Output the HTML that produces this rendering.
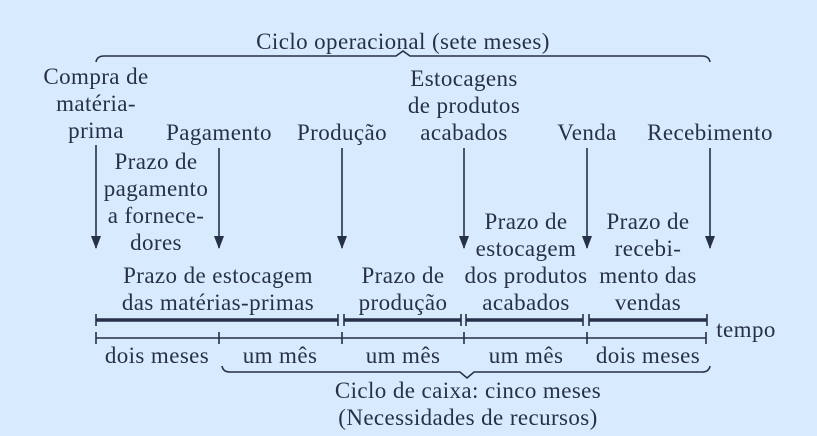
<!DOCTYPE html>
<html><head><meta charset="utf-8"><style>
body{margin:0;width:817px;height:436px;background:#d8ebfc;overflow:hidden;position:relative;font-family:"Liberation Serif",serif;color:#27304a}
.t{position:absolute;font-size:23px;letter-spacing:0.4px;line-height:27px;text-align:center;white-space:nowrap;transform:translateX(-50%)}
svg{position:absolute;left:0;top:0}
</style></head><body>
<svg width="817" height="436" viewBox="0 0 817 436">
<g stroke="#27304a" fill="none" stroke-width="1.6">
<path d="M96,62 Q97,56 104,56 L396,56 L403,51 L410,56 L702,56 Q709,56 710,62"/>
<path d="M222,366 Q223,372 230,372 L460,372 L467,378 L474,372 L702,372 Q709,372 710,366"/>
<path d="M96,338 H706 M96,332 V344 M219,332 V344 M342,332 V344 M464,332 V344 M587,332 V344 M706,332 V344"/>
</g>
<g stroke="#27304a" stroke-width="1.6">
<line x1="96" y1="145" x2="96" y2="248"/>
<line x1="219" y1="148" x2="219" y2="248"/>
<line x1="342" y1="148" x2="342" y2="248"/>
<line x1="464" y1="148" x2="464" y2="248"/>
<line x1="587" y1="148" x2="587" y2="248"/>
<line x1="710" y1="148" x2="710" y2="248"/>
</g>
<g fill="#27304a">
<path d="M91,236 L101,236 L96,249Z"/><path d="M214,236 L224,236 L219,249Z"/><path d="M337,236 L347,236 L342,249Z"/><path d="M459,236 L469,236 L464,249Z"/><path d="M582,236 L592,236 L587,249Z"/><path d="M705,236 L715,236 L710,249Z"/>
</g>
<g stroke="#27304a">
<path d="M96,320 H338 M344,320 H461 M466,320 H583 M589,320 H707" stroke-width="3.5"/>
<path d="M96,314 V326 M338,314 V326 M344,314 V326 M461,314 V326 M466,314 V326 M583,314 V326 M589,314 V326 M707,314 V326" stroke-width="1.6"/>
</g>
</svg>
<div class="t" style="left:403px;top:28px">Ciclo operacional (sete meses)</div>
<div class="t" style="left:96px;top:63px">Compra de<br>matéria-<br>prima</div>
<div class="t" style="left:219px;top:119px">Pagamento</div>
<div class="t" style="left:342px;top:119px">Produção</div>
<div class="t" style="left:464px;top:65px">Estocagens<br>de produtos<br>acabados</div>
<div class="t" style="left:587px;top:119px">Venda</div>
<div class="t" style="left:710px;top:119px">Recebimento</div>
<div class="t" style="left:156px;top:148px">Prazo de<br>pagamento<br>a fornece-<br>dores</div>
<div class="t" style="left:218px;top:262px">Prazo de estocagem<br>das matérias-primas</div>
<div class="t" style="left:403px;top:262px">Prazo de<br>produção</div>
<div class="t" style="left:526px;top:208px">Prazo de<br>estocagem<br>dos produtos<br>acabados</div>
<div class="t" style="left:648px;top:208px">Prazo de<br>recebi-<br>mento das<br>vendas</div>
<div class="t" style="left:746px;top:316px">tempo</div>
<div class="t" style="left:157px;top:342px">dois meses</div>
<div class="t" style="left:280px;top:342px">um mês</div>
<div class="t" style="left:403px;top:342px">um mês</div>
<div class="t" style="left:526px;top:342px">um mês</div>
<div class="t" style="left:648px;top:342px">dois meses</div>
<div class="t" style="left:468px;top:377px">Ciclo de caixa: cinco meses<br>(Necessidades de recursos)</div>
</body></html>
